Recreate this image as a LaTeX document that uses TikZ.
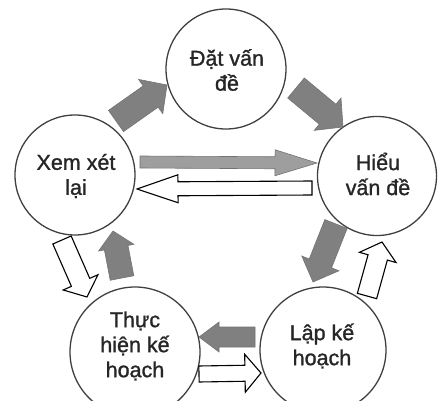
\documentclass[tikz,border=0pt]{standalone}
\usepackage{fontspec}
\setmainfont{Liberation Sans}
\newfontface\semib{Liberation Sans}[FakeBold=1.2]
\usetikzlibrary{calc}
\newcommand\myarrow[6]{%
  \coordinate (ab) at ($(#3)!#6pt!(#2)$);
  \draw[#1] ($(#2)!#4pt!90:(#3)$) -- ($(ab)!#4pt!90:(#3)$) -- ($(ab)!#5pt!90:(#3)$) -- (#3)
    -- ($(ab)!#5pt!-90:(#3)$) -- ($(ab)!#4pt!-90:(#3)$) -- ($(#2)!#4pt!-90:(#3)$) -- cycle;}
\begin{document}
\begin{tikzpicture}[x=1pt,y=-1pt,
  stage/.style={circle,draw=black!75,line width=1.3pt,fill=white,inner sep=0pt},
  txt/.style={align=center,font=\semib\fontsize{21.5}{25}\selectfont,text=black!85,inner sep=0pt},
  grayarrow/.style={fill=black!50,draw=black!55,line width=0.6pt,line join=miter},
  whitearrow/.style={fill=white,draw=black,line width=1.1pt,line join=miter}]
\useasboundingbox (0,0) rectangle (442,401);
\node[stage,minimum size=120pt] (top) at (226,69) {};
\node[stage,minimum size=120pt] (left) at (75,175) {};
\node[stage,minimum size=119pt] (right) at (377,176) {};
\node[stage,minimum size=130pt] (bl) at (135,352) {};
\node[stage,minimum size=126pt] (br) at (323,350) {};
\node[txt] (topt) at (227,70) {Đặt vấn\\đề};
\node[txt] (leftt) at (76,176) {Xem xét\\lại};
\node[txt] (rightt) at (378,174) {Hiểu\\vấn đề};
\node[txt] (blt) at (135,346) {Thực\\hiện kế\\hoạch};
\node[txt] (brt) at (322,346) {Lập kế\\hoạch};
% arrow end points
\coordinate (a1t) at (116,121); \coordinate (a1h) at (167,85);
\coordinate (a2t) at (296,88);  \coordinate (a2h) at (343,127);
\coordinate (a3t) at (140,162); \coordinate (a3h) at (317,163);
\coordinate (a4t) at (312,188); \coordinate (a4h) at (137,189);
\coordinate (a5t) at (336,224); \coordinate (a5h) at (313,282);
\coordinate (a6t) at (367,296); \coordinate (a6h) at (382,242);
\coordinate (a7t) at (255,337); \coordinate (a7h) at (199,337);
\coordinate (a8t) at (199,374); \coordinate (a8h) at (261,373);
\coordinate (a9t) at (62,240);  \coordinate (a9h) at (87,297);
\coordinate (a10t) at (122,278); \coordinate (a10h) at (113,231);
\myarrow{grayarrow}{a1t}{a1h}{13}{21}{20}
\myarrow{grayarrow}{a2t}{a2h}{13}{21}{20}
\myarrow{grayarrow,fill=black!38}{a3t}{a3h}{6}{13}{42}
\myarrow{whitearrow}{a4t}{a4h}{7}{14}{41}
\myarrow{grayarrow}{a5t}{a5h}{12}{20}{20}
\myarrow{whitearrow}{a6t}{a6h}{10}{19}{16}
\myarrow{grayarrow}{a7t}{a7h}{10}{15}{20}
\myarrow{whitearrow}{a8t}{a8h}{8}{19}{16}
\myarrow{whitearrow}{a9t}{a9h}{10}{19}{16}
\myarrow{grayarrow}{a10t}{a10h}{12}{18}{17}
\end{tikzpicture}
\end{document}
